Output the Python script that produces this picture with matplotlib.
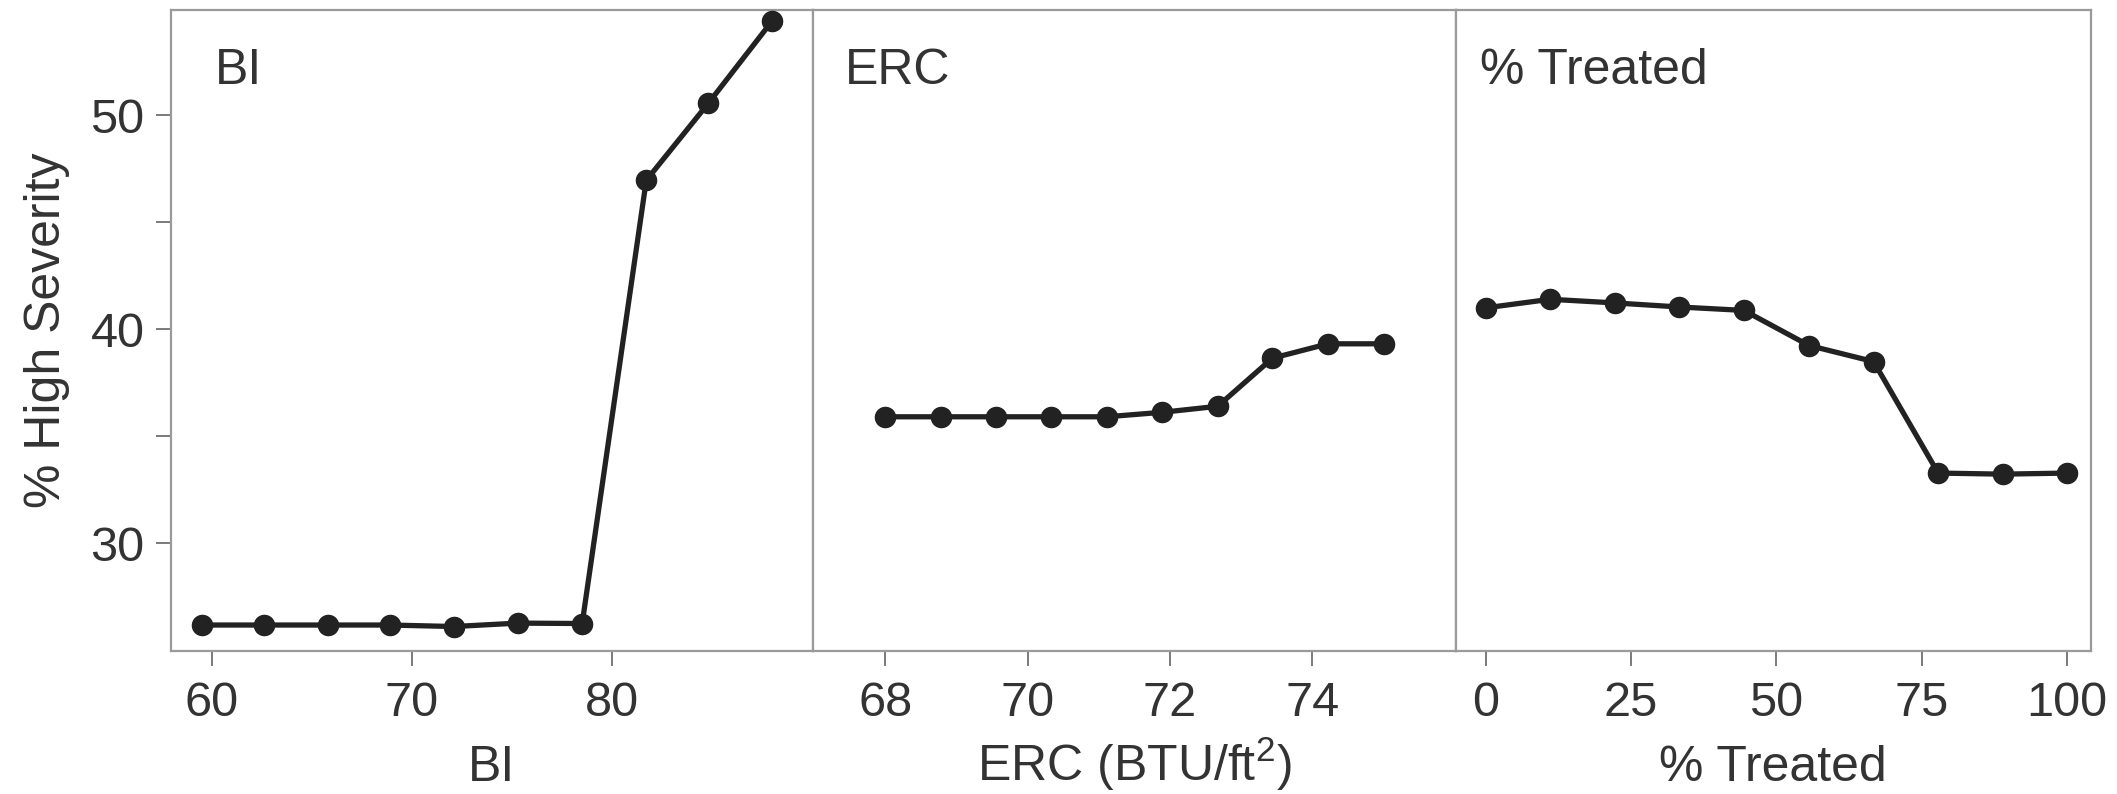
import matplotlib
matplotlib.use("Agg")
import matplotlib.pyplot as plt

plt.rcParams["font.family"] = ["Liberation Sans", "DejaVu Sans"]
plt.rcParams["mathtext.default"] = "regular"

# values
bi_x = [59.5, 62.6, 65.8, 68.9, 72.1, 75.3, 78.5, 81.7, 84.8, 88.0]
bi_y = [26.19, 26.19, 26.19, 26.19, 26.12, 26.28, 26.26, 46.97, 50.57, 54.43]

erc_x = [68.0, 68.78, 69.56, 70.33, 71.11, 71.89, 72.67, 73.44, 74.22, 75.0]
erc_y = [35.92, 35.92, 35.92, 35.92, 35.92, 36.13, 36.41, 38.66, 39.33, 39.33]

trt_x = [0, 11.1, 22.2, 33.3, 44.4, 55.6, 66.7, 77.8, 88.9, 100]
trt_y = [41.01, 41.41, 41.24, 41.05, 40.89, 39.25, 38.5, 33.29, 33.24, 33.29]

panel_names = ["BI", "ERC", "% Treated"]
x_labels = ["BI", "ERC (BTU/ft$^{2}$)", "% Treated"]
x_ticks = [[60, 70, 80], [68, 70, 72, 74], [0, 25, 50, 75, 100]]
x_lims = [(57.96, 90.0), (66.98, 76.01), (-5.2, 104.0)]
y_ticks = [30, 40, 50]

W, H = 2117, 794
fig = plt.figure(figsize=(W / 100, H / 100), dpi=100)

edges = [170.8, 812.5, 1455.5, 2090.5]
top_px, bot_px = 9.5, 650.5
name_x = [0.068, 0.050, 0.039]

line_col = "#222222"
grey = "#9a9a9a"
txt = "#333333"

xs = [bi_x, erc_x, trt_x]
ys = [bi_y, erc_y, trt_y]

for i in range(3):
    left = edges[i] / W
    width = (edges[i + 1] - edges[i]) / W
    bottom = 1 - bot_px / H
    height = (bot_px - top_px) / H
    ax = fig.add_axes([left, bottom, width, height])

    ax.plot(xs[i], ys[i], color=line_col, lw=3.8, marker="o", ms=14.5,
            markerfacecolor=line_col, markeredgecolor=line_col, zorder=3)

    ax.set_xlim(*x_lims[i])
    ax.set_ylim(25.0, 54.95)
    ax.set_xticks(x_ticks[i])

    for s in ax.spines.values():
        s.set_color(grey)
        s.set_linewidth(1.6)

    ax.tick_params(axis="x", length=11, width=1.4, color="#7a7a7a", pad=11,
                   labelsize=35, labelcolor=txt)
    ax.set_xlabel(x_labels[i], fontsize=36, color=txt)
    ax.xaxis.set_label_coords(0.5, -0.203)
    ax.xaxis.label.set_va("baseline")

    if i == 0:
        ax.set_yticks(y_ticks)
        ax.set_yticks([35, 45], minor=True)
        ax.tick_params(axis="y", which="both", length=11, width=1.4,
                       color="#7a7a7a", pad=8, labelsize=35, labelcolor=txt)
        ax.set_ylabel("% High Severity", fontsize=36, color=txt)
        ax.yaxis.set_label_coords(-0.157, 0.5)
    else:
        ax.tick_params(axis="y", which="both", left=False, labelleft=False)

    ax.text(name_x[i], 0.884, panel_names[i], transform=ax.transAxes,
            fontsize=36, color=txt, ha="left", va="baseline")

fig.savefig("out.png", dpi=100, facecolor="white")
